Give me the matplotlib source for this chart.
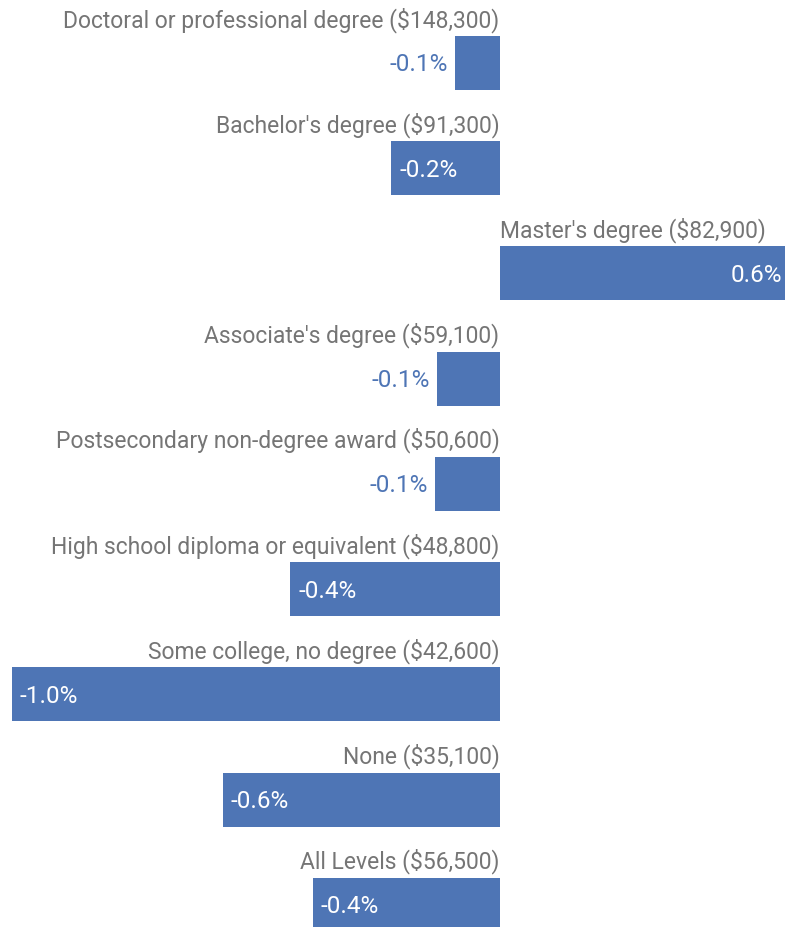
import matplotlib
matplotlib.use("Agg")
import matplotlib.pyplot as plt

# data
categories = [
    "Doctoral or professional degree ($148,300)",
    "Bachelor's degree ($91,300)",
    "Master's degree ($82,900)",
    "Associate's degree ($59,100)",
    "Postsecondary non-degree award ($50,600)",
    "High school diploma or equivalent ($48,800)",
    "Some college, no degree ($42,600)",
    "None ($35,100)",
    "All Levels ($56,500)",
]
values = [-0.092, -0.223, 0.594, -0.130, -0.133, -0.430, -1.0, -0.568, -0.384]
value_labels = ["-0.1%", "-0.2%", "0.6%", "-0.1%", "-0.1%", "-0.4%", "-1.0%", "-0.6%", "-0.4%"]

bar_color = "#4E75B5"
text_gray = "#757575"

plt.rcParams["font.family"] = ["Roboto", "DejaVu Sans"]

fig = plt.figure(figsize=(7.85, 9.27), dpi=100)
ax = fig.add_axes([0, 0, 1, 1])
ax.axis("off")

px_per_unit = 488.0
row_px = 105.24
ax.set_xlim(-500 / px_per_unit, 285 / px_per_unit)
ax.set_ylim(8 + 22.1 / row_px, -63 / row_px)

bar_h = 54 / row_px
ypos = list(range(len(categories)))
ax.barh(ypos, values, height=bar_h, color=bar_color)

pad = 8 / px_per_unit
for y, v, cat, lab in zip(ypos, values, categories, value_labels):
    # category label above bar
    top = y - bar_h / 2 - 9 / row_px
    if v >= 0:
        ax.text(0.001, top, cat, ha="left", va="baseline", fontsize=16.5, color=text_gray)
    else:
        ax.text(-0.001, top, cat, ha="right", va="baseline", fontsize=16.5, color=text_gray)

    # value label, inside if bar is wide enough
    ly = y + 2 / row_px
    if abs(v) > 0.18:
        if v < 0:
            ax.text(v + pad, ly, lab, ha="left", va="center", fontsize=17.5, color="white")
        else:
            ax.text(v - pad, ly, lab, ha="right", va="center", fontsize=17.5, color="white",
                    clip_on=False)
    else:
        ax.text(v - 7 / px_per_unit, ly, lab, ha="right", va="center", fontsize=17.5, color=bar_color)

fig.savefig("out.png", dpi=100)
